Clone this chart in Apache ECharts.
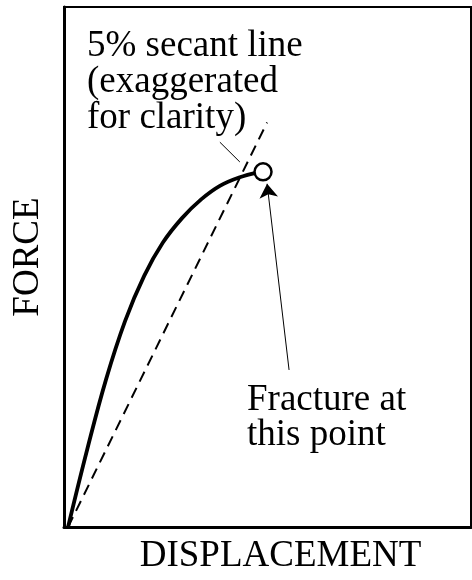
<!DOCTYPE html>
<html>
<head>
<meta charset="utf-8">
<script src="https://cdn.jsdelivr.net/npm/echarts@6/dist/echarts.min.js"></script>
<style>
  html, body { margin: 0; padding: 0; background: #fff; }
  #chart { width: 472px; height: 580px; }
</style>
</head>
<body>
<div id="chart"></div>
<script>
// load curve (displacement, force) in % of the axis range
var curveX = [1.0, 5.7, 10.3, 15.0, 19.7, 24.3, 29.0, 33.7, 38.3, 43.0, 47.7];
var curveY = [0, 14.9, 28.3, 39.6, 48.3, 54.7, 59.4, 63.0, 65.6, 67.2, 68.2];
// 5% secant line (dashed)
var secantX = [1.0, 49.9];
var secantY = [0, 77.8];
// fracture point
var fractureX = [48.9];
var fractureY = [68.3];
// leader from the text to the secant line
var leaderX = [38.3, 43.2];
var leaderY = [74.0, 70.2];
// arrow from "Fracture at this point" up to the circle
var arrowX = [55.3, 49.9];
var arrowY = [30.2, 66.0];

function pairs(xs, ys) {
    var out = [];
    for (var i = 0; i < xs.length; i++) out.push([xs[i], ys[i]]);
    return out;
}

var serif = '"Liberation Serif", "DejaVu Serif", serif';
var myChart = echarts.init(document.getElementById('chart'));

var option = {
    animation: false,
    grid: {
        left: 64, right: 1, top: 7, bottom: 50,
        show: true, borderColor: '#000', borderWidth: 2
    },
    xAxis: {
        type: 'value', min: 0, max: 100,
        name: 'DISPLACEMENT', nameLocation: 'middle', nameGap: 11,
        nameTextStyle: { fontFamily: serif, fontSize: 37, color: '#000', padding: [0, 0, 0, 26] },
        axisLine: { show: true, lineStyle: { color: '#000', width: 3 } },
        axisTick: { show: false }, axisLabel: { show: false }, splitLine: { show: false }
    },
    yAxis: {
        type: 'value', min: 0, max: 100,
        name: 'FORCE', nameLocation: 'middle', nameGap: 17,
        nameTextStyle: { fontFamily: serif, fontSize: 37, color: '#000', padding: [0, 0, 0, 20] },
        axisLine: { show: true, lineStyle: { color: '#000', width: 3 } },
        axisTick: { show: false }, axisLabel: { show: false }, splitLine: { show: false }
    },
    graphic: [
        {
            type: 'text', left: 87, top: 28,
            style: {
                text: '5% secant line\n(exaggerated\nfor clarity)',
                font: '37px ' + serif, fill: '#000', lineHeight: 36
            }
        },
        {
            type: 'text', left: 247, top: 382,
            style: {
                text: 'Fracture at\nthis point',
                font: '37px ' + serif, fill: '#000', lineHeight: 35
            }
        }
    ],
    series: [
        {
            name: 'secant', type: 'line', data: pairs(secantX, secantY),
            showSymbol: false, lineStyle: { color: '#000', width: 2, type: [11, 7] }
        },
        {
            name: 'curve', type: 'line', smooth: 0.4,
            data: pairs(curveX, curveY),
            showSymbol: false, lineStyle: { color: '#000', width: 3.8 }
        },
        {
            name: 'leader', type: 'line', data: pairs(leaderX, leaderY),
            showSymbol: false, lineStyle: { color: '#000', width: 1 }
        },
        {
            name: 'arrow', type: 'lines', coordinateSystem: 'cartesian2d',
            symbol: ['none', 'arrow'], symbolSize: [5, 14],
            lineStyle: { color: '#000', width: 1, opacity: 1 },
            data: [{ coords: pairs(arrowX, arrowY) }]
        },
        {
            name: 'fracture', type: 'scatter', data: pairs(fractureX, fractureY),
            symbol: 'circle', symbolSize: 17, z: 5,
            itemStyle: { color: '#fff', borderColor: '#000', borderWidth: 2.5, opacity: 1 }
        }
    ]
};
myChart.setOption(option);
</script>
</body>
</html>
